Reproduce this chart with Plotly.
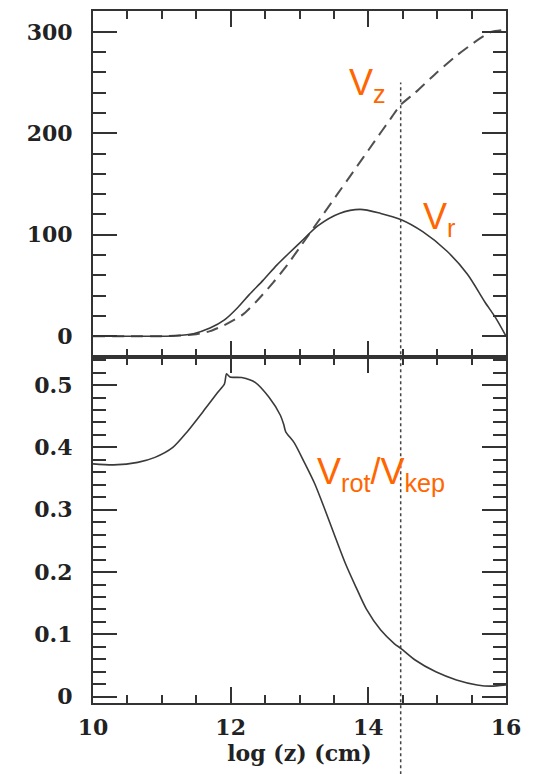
import plotly.graph_objects as go

# ---------------- data ----------------
logz_vr = [10.0, 10.5, 11.0, 11.2, 11.46, 11.7, 11.91, 12.1, 12.27, 12.47, 12.67,
           12.85, 13.02, 13.27, 13.58, 13.88, 14.18, 14.47, 14.79, 15.14, 15.44,
           15.69, 15.85, 16.0]
vr = [0, 0, 0, 0.5, 2.5, 8, 16, 28, 41, 55, 70,
      82, 93, 109, 121, 125, 121, 115, 103, 84, 61,
      34, 18, 0]

logz_vz = [10.0, 10.5, 11.06, 11.46, 11.7, 11.91, 12.17, 12.37, 12.62, 12.82, 13.02,
           13.27, 13.53, 13.78, 14.08, 14.33, 14.47, 14.68, 14.98, 15.29, 15.59,
           15.79, 16.0]
vz = [0, 0, 0, 1.6, 5, 11, 21, 34, 53, 70, 89,
      113, 138, 162, 191, 215, 228, 240, 259, 277, 292,
      300, 302]

logz_rot = [10.0, 10.3, 10.65, 10.9, 11.16, 11.36, 11.61, 11.81, 11.91, 11.94, 11.99,
            12.16, 12.36, 12.56, 12.72, 12.77, 12.80, 12.92, 13.07, 13.22, 13.37,
            13.52, 13.67, 13.82, 13.97, 14.18, 14.38, 14.48, 14.68, 14.98, 15.28,
            15.58, 15.78, 16.0]
vrot_vkep = [0.3735, 0.372, 0.376, 0.384, 0.400, 0.424, 0.459, 0.488, 0.502, 0.518, 0.513,
             0.512, 0.504, 0.480, 0.452, 0.437, 0.425, 0.408, 0.376, 0.342, 0.300,
             0.256, 0.213, 0.176, 0.141, 0.107, 0.085, 0.077, 0.059, 0.040, 0.027,
             0.019, 0.017, 0.019]

marker_logz = 14.47      # dotted vertical reference line
marker_top_v = 250       # its top end, in V units of the upper panel

x_range = [10, 16]
top_range = [-20.5, 320.5]
bot_range = [-0.01, 0.545]

# ---------------- figure ----------------
INK = "#333333"
TICKFONT = dict(family="DejaVu Serif", size=22, color="#222222", weight="bold")
ORANGE = "#FF6600"
LBLFONT = dict(family="Liberation Sans, Arial, sans-serif", size=36, color=ORANGE)

fig = go.Figure()
fig.add_trace(go.Scatter(x=logz_vz, y=vz, mode="lines", xaxis="x", yaxis="y",
                         line=dict(color="#505050", width=2, dash="12px,7px",
                                   shape="spline", smoothing=0.6),
                         showlegend=False, hoverinfo="skip"))
fig.add_trace(go.Scatter(x=logz_vr, y=vr, mode="lines", xaxis="x", yaxis="y",
                         line=dict(color="#3a3a3a", width=1.6,
                                   shape="spline", smoothing=0.8),
                         showlegend=False, hoverinfo="skip"))
fig.add_trace(go.Scatter(x=logz_rot, y=vrot_vkep, mode="lines", xaxis="x2", yaxis="y2",
                         line=dict(color="#3a3a3a", width=1.6,
                                   shape="spline", smoothing=0.7),
                         showlegend=False, hoverinfo="skip"))

common_x = dict(range=x_range, showline=True, linecolor=INK, linewidth=2,
                mirror="allticks", ticks="inside", tickmode="linear",
                tick0=10, dtick=2, ticklen=16, tickwidth=2, tickcolor=INK,
                minor=dict(dtick=0.5, tick0=10, ticklen=8, tickwidth=2,
                           tickcolor=INK, ticks="inside"),
                showgrid=False, zeroline=False, tickfont=TICKFONT)
common_y = dict(showline=True, linecolor=INK, linewidth=2, mirror="allticks",
                ticks="inside", tickmode="linear", tick0=0,
                ticklen=24, tickwidth=2, tickcolor=INK,
                showgrid=False, zeroline=False, tickfont=TICKFONT,
                ticklabelstandoff=14)

fig.update_layout(
    width=543, height=774,
    margin=dict(l=93, r=37, t=9, b=71),
    paper_bgcolor="white", plot_bgcolor="white",
    xaxis=dict(**common_x, domain=[0, 1], anchor="y", showticklabels=False,
               matches="x2"),
    xaxis2=dict(**common_x, domain=[0, 1], anchor="y2", showticklabels=True,
                ticklabelstandoff=4,
                title=dict(text="log (z) (cm)", font=TICKFONT, standoff=4)),
    yaxis=dict(**common_y, domain=[0.5, 1], anchor="x", range=top_range,
               dtick=100,
               minor=dict(dtick=20, tick0=0, ticklen=13, tickwidth=2,
                          tickcolor=INK, ticks="inside")),
    yaxis2=dict(**common_y, domain=[0, 0.5], anchor="x2", range=bot_range,
                dtick=0.1,
                minor=dict(dtick=0.02, tick0=0, ticklen=13, tickwidth=2,
                           tickcolor=INK, ticks="inside")),
)

# dotted vertical line spanning both panels down past the axis title
top_paper = 0.5 + 0.5 * (marker_top_v - top_range[0]) / (top_range[1] - top_range[0])
fig.add_shape(type="line", xref="x2", yref="paper",
              x0=marker_logz, x1=marker_logz, y0=-0.103, y1=top_paper,
              line=dict(color="#444444", width=1.5, dash="dot"))

# orange curve labels
fig.add_annotation(x=13.69, y=248, xref="x", yref="y", text="V<sub>z</sub>",
                   showarrow=False, xanchor="left", yanchor="middle", font=LBLFONT)
fig.add_annotation(x=14.77, y=116, xref="x", yref="y", text="V<sub>r</sub>",
                   showarrow=False, xanchor="left", yanchor="middle", font=LBLFONT)
fig.add_annotation(x=13.22, y=0.357, xref="x2", yref="y2",
                   text="V<sub>rot</sub>/V<sub>kep</sub>",
                   showarrow=False, xanchor="left", yanchor="middle", font=LBLFONT)

fig.write_html("out.html")
